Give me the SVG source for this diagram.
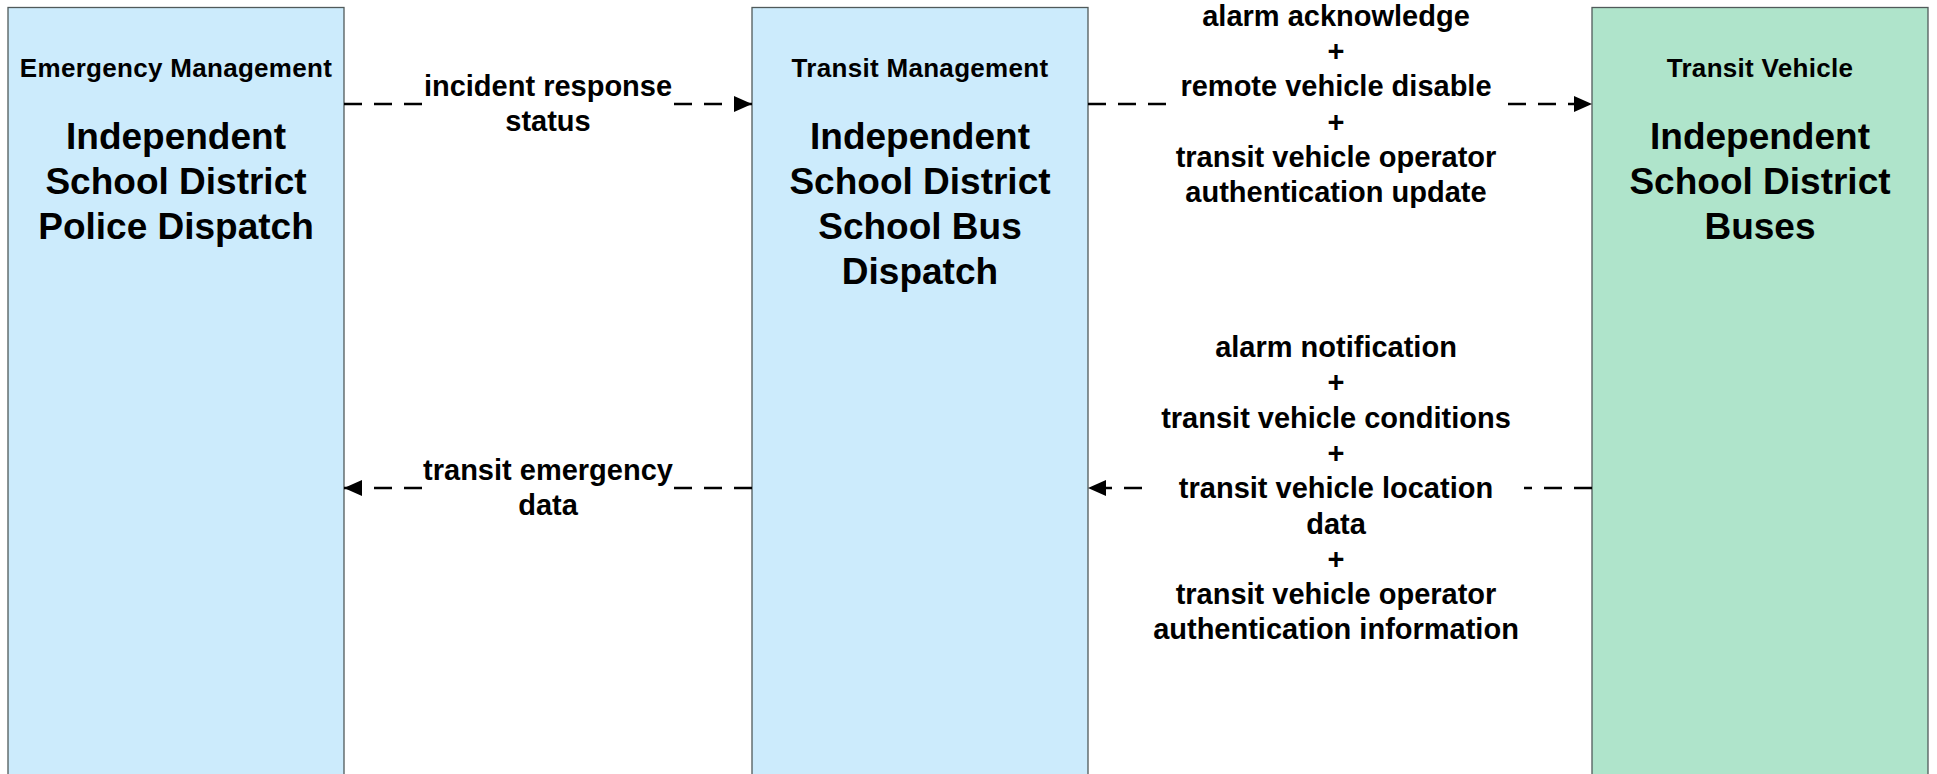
<svg xmlns="http://www.w3.org/2000/svg" width="1937" height="774" viewBox="0 0 1937 774">
<style>
.box{stroke:#505a5a;stroke-width:1.3}
.blue{fill:#CCEBFC}
.green{fill:#AFE4CB}
.hdr{font-family:"Liberation Sans",Arial,sans-serif;font-weight:bold;font-size:26px;letter-spacing:0.3px;text-anchor:middle;fill:#000}
.big{font-family:"Liberation Sans",Arial,sans-serif;font-weight:bold;font-size:37px;text-anchor:middle;fill:#000}
.lbl{font-family:"Liberation Sans",Arial,sans-serif;font-weight:bold;font-size:29px;text-anchor:middle;fill:#000}
.flow{stroke:#000;stroke-width:2.7;stroke-dasharray:18 12;fill:none}
.bg{fill:#fff}
</style>
<defs>
<marker id="arr" markerUnits="userSpaceOnUse" markerWidth="20" markerHeight="18" refX="18" refY="8" orient="auto">
<path d="M0,0 L18,8 L0,16 Z" fill="#000"/>
</marker>
</defs>
<g id="node-police">
<rect class="box blue" x="8" y="7.5" width="336" height="800"/>
<text class="hdr" x="176" y="76.5">Emergency Management</text>
<text class="big" x="176" y="149">Independent</text>
<text class="big" x="176" y="194">School District</text>
<text class="big" x="176" y="239">Police Dispatch</text>
</g>
<g id="node-busdispatch">
<rect class="box blue" x="752" y="7.5" width="336" height="800"/>
<text class="hdr" x="920" y="76.5">Transit Management</text>
<text class="big" x="920" y="149">Independent</text>
<text class="big" x="920" y="194">School District</text>
<text class="big" x="920" y="239">School Bus</text>
<text class="big" x="920" y="284">Dispatch</text>
</g>
<g id="node-buses">
<rect class="box green" x="1592" y="7.5" width="336" height="800"/>
<text class="hdr" x="1760" y="76.5">Transit Vehicle</text>
<text class="big" x="1760" y="149">Independent</text>
<text class="big" x="1760" y="194">School District</text>
<text class="big" x="1760" y="239">Buses</text>
</g>
<g id="connectors">
<path class="flow" d="M344,104 L752,104" marker-end="url(#arr)"/>
<rect class="bg" x="423" y="70" width="250" height="70"/>
<text class="lbl" x="548" y="96">incident response</text>
<text class="lbl" x="548" y="131">status</text>

<path class="flow" d="M752,488 L344,488" marker-end="url(#arr)"/>
<rect class="bg" x="422" y="454" width="251" height="70"/>
<text class="lbl" x="548" y="480">transit emergency</text>
<text class="lbl" x="548" y="515">data</text>

<path class="flow" d="M1088,104 L1592,104" marker-end="url(#arr)"/>
<rect class="bg" x="1173" y="0" width="326" height="212"/>
<text class="lbl" x="1336" y="26">alarm acknowledge</text>
<text class="lbl" x="1336" y="61">+</text>
<text class="lbl" x="1336" y="96">remote vehicle disable</text>
<text class="lbl" x="1336" y="131.5">+</text>
<text class="lbl" x="1336" y="167">transit vehicle operator</text>
<text class="lbl" x="1336" y="202">authentication update</text>

<path class="flow" d="M1592,488 L1088,488" marker-end="url(#arr)"/>
<rect class="bg" x="1146" y="330" width="378" height="318"/>
<text class="lbl" x="1336" y="357">alarm notification</text>
<text class="lbl" x="1336" y="392">+</text>
<text class="lbl" x="1336" y="427.5">transit vehicle conditions</text>
<text class="lbl" x="1336" y="463">+</text>
<text class="lbl" x="1336" y="498">transit vehicle location</text>
<text class="lbl" x="1336" y="533.5">data</text>
<text class="lbl" x="1336" y="568.5">+</text>
<text class="lbl" x="1336" y="604">transit vehicle operator</text>
<text class="lbl" x="1336" y="639">authentication information</text>
</g>
</svg>
